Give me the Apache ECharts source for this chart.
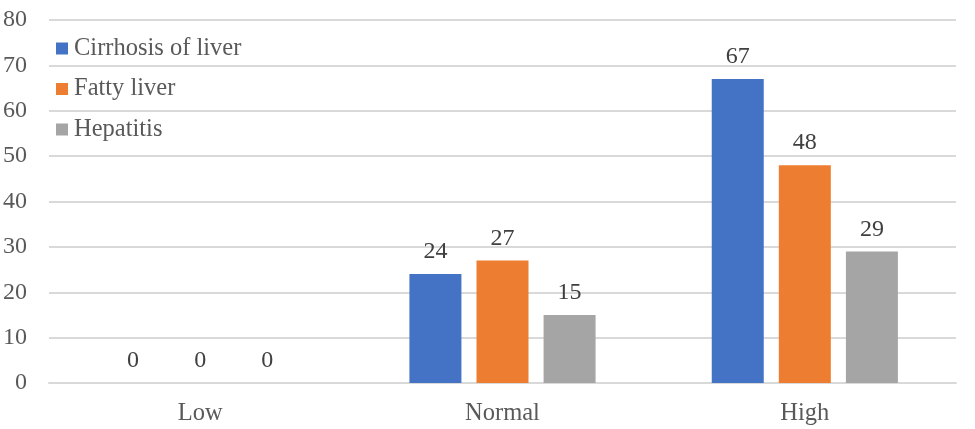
<!DOCTYPE html>
<html><head><meta charset="utf-8">
<script src="https://cdn.jsdelivr.net/npm/echarts@6/dist/echarts.min.js"></script>
<style>html,body{margin:0;padding:0;background:#fff}#c{width:975px;height:429px}</style>
</head><body><div id="c"></div>
<script>
const categories = ['Low', 'Normal', 'High'];
const cirrhosis = [0, 24, 67];
const fatty = [0, 27, 48];
const hepatitis = [0, 15, 29];
const yTicks = [0, 10, 20, 30, 40, 50, 60, 70, 80];

const font = 'Liberation Serif, Times New Roman, serif';
const chart = echarts.init(document.getElementById('c'));
const lbl = {show: true, position: 'top', distance: 10, color: '#404040', fontFamily: font, fontSize: 24};
function s(name, data, color) {
  return {name, type: 'bar', data, barWidth: 52, barGap: '29%', itemStyle: {color}, label: lbl};
}
chart.setOption({
  animation: false,
  grid: {left: 49, right: 19, top: 20, bottom: 46},
  legend: {
    orient: 'vertical', left: 51, top: 31, itemWidth: 12, itemHeight: 12, itemGap: 15.5,
    icon: 'rect',
    textStyle: {fontFamily: font, fontSize: 24.5, color: '#595959', padding: [0, 0, 0, 1]}
  },
  xAxis: {
    type: 'category', data: categories,
    axisLine: {lineStyle: {color: '#d9d9d9', width: 2}},
    axisTick: {show: false},
    axisLabel: {fontFamily: font, fontSize: 24.5, color: '#595959', margin: 18}
  },
  yAxis: {
    type: 'value', min: yTicks[0], max: yTicks[yTicks.length - 1], interval: 10,
    axisLine: {show: false}, axisTick: {show: false},
    splitLine: {lineStyle: {color: '#d9d9d9', width: 2}},
    axisLabel: {fontFamily: font, fontSize: 24, color: '#595959', margin: 22}
  },
  series: [
    s('Cirrhosis of liver', cirrhosis, '#4472C4'),
    s('Fatty liver', fatty, '#ED7D31'),
    s('Hepatitis', hepatitis, '#A5A5A5')
  ]
});
</script></body></html>
